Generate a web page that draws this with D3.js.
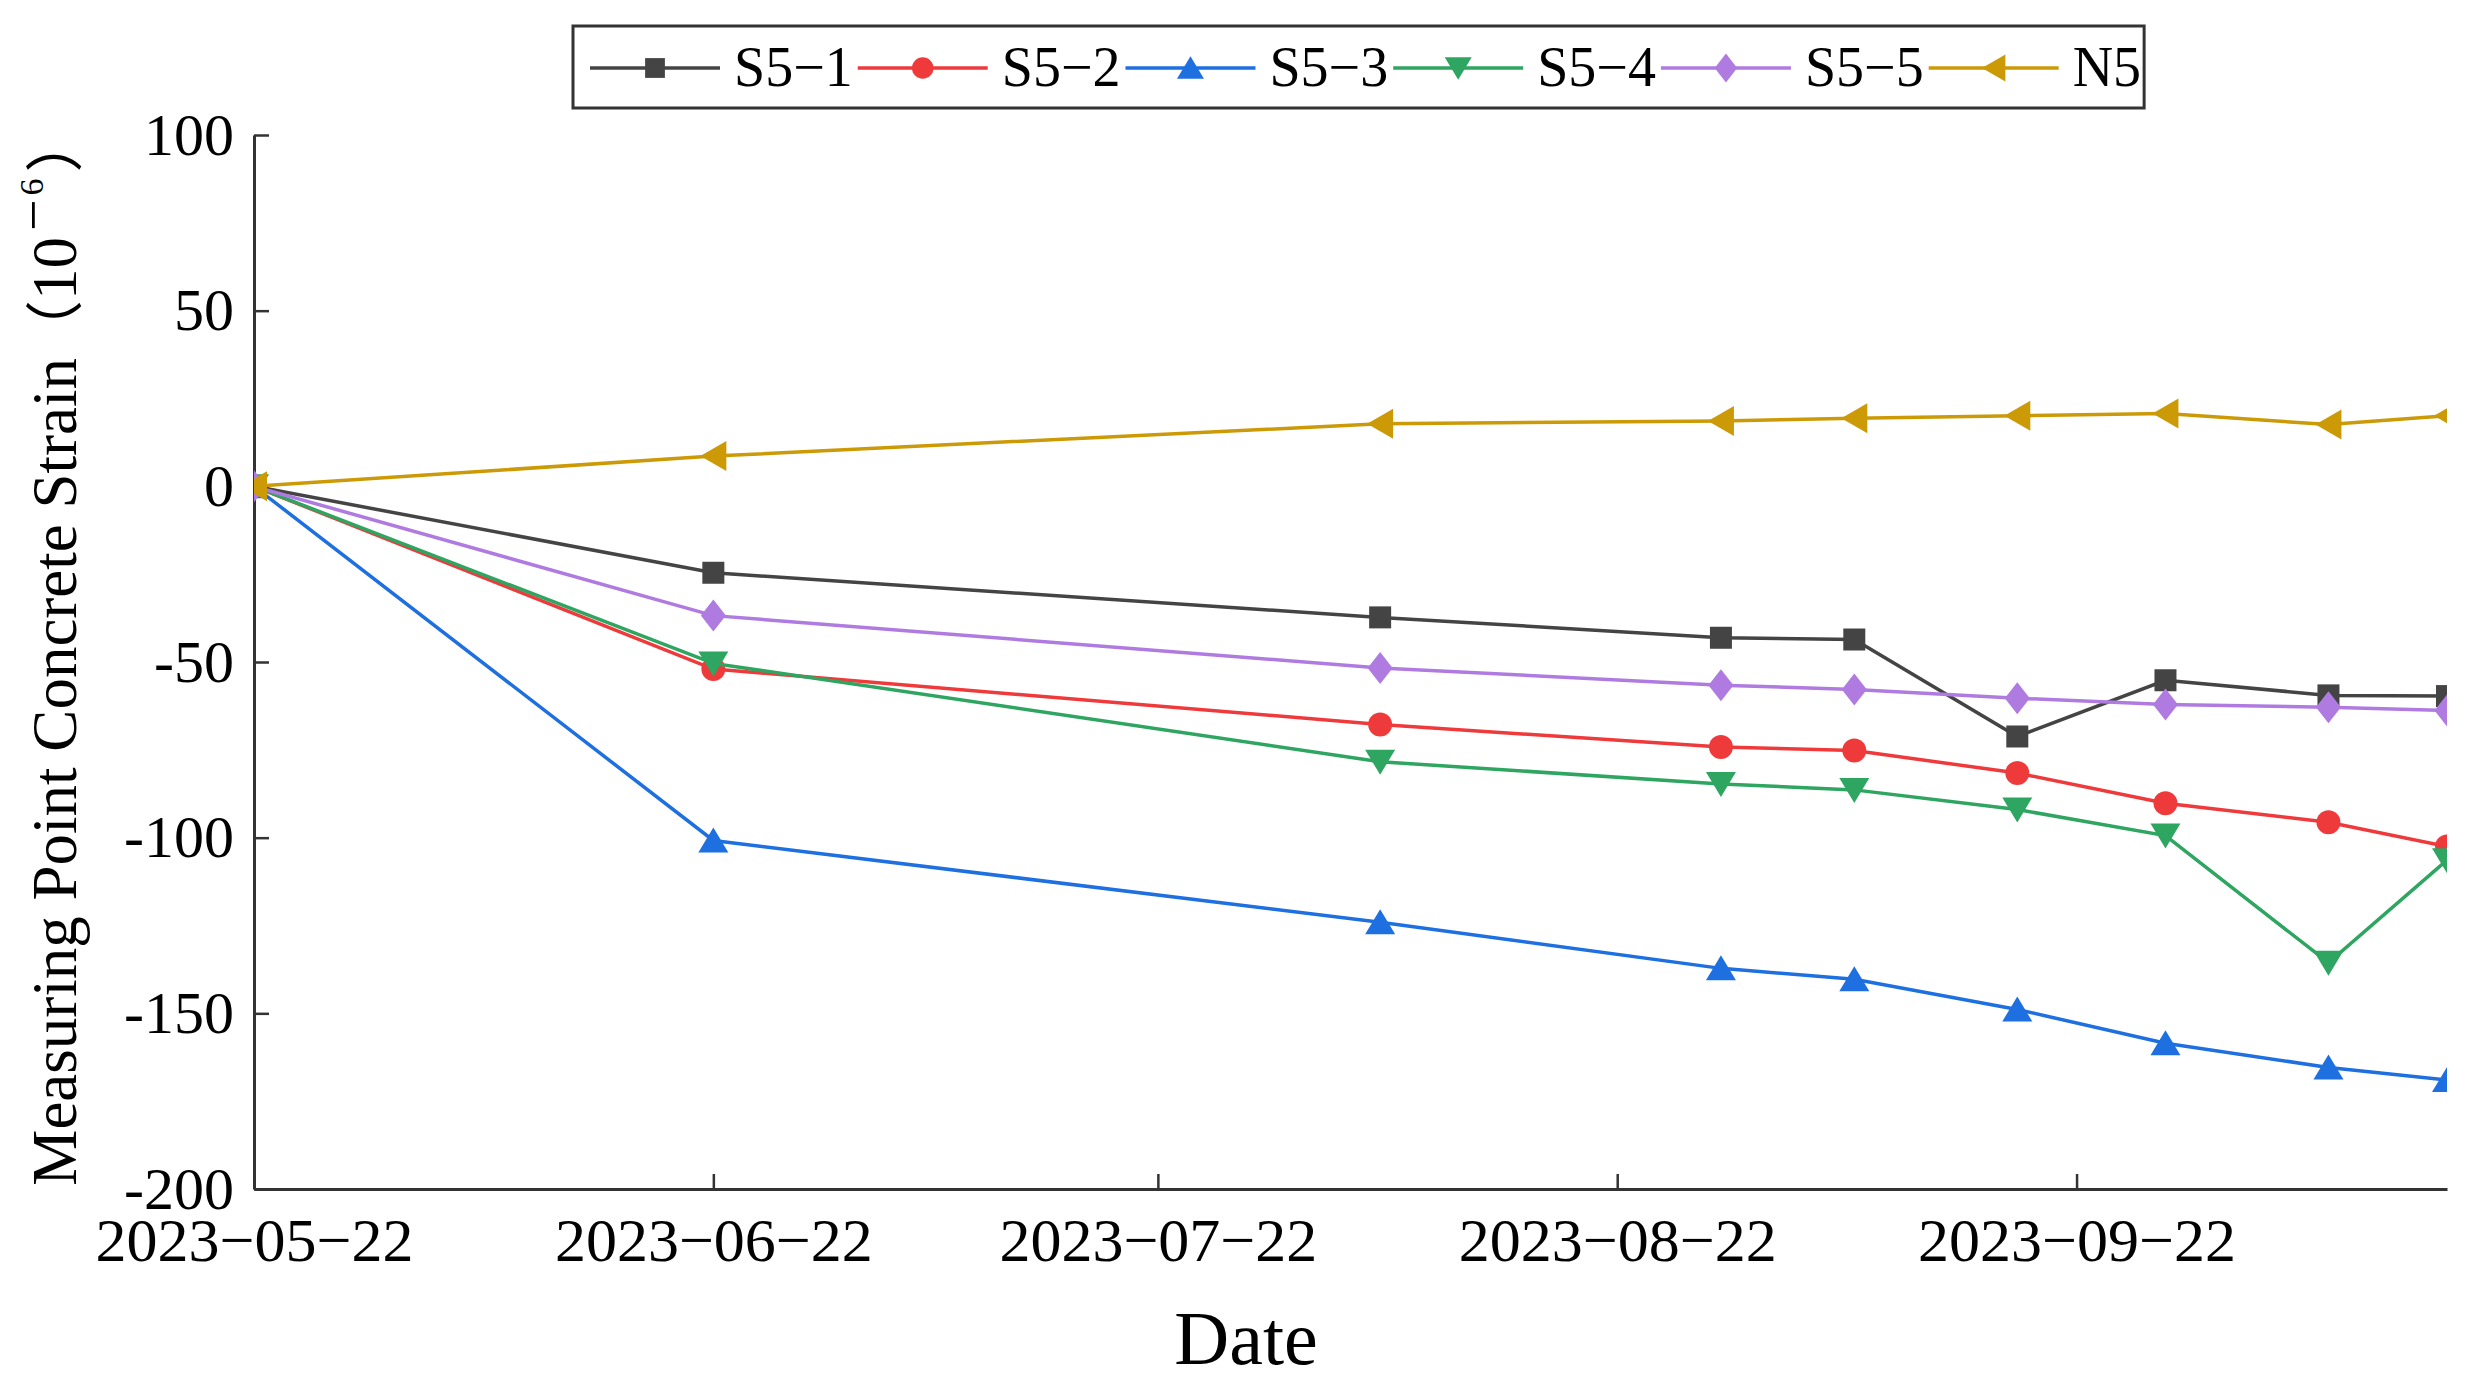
<!DOCTYPE html>
<html>
<head>
<meta charset="utf-8">
<script src="https://cdn.jsdelivr.net/npm/d3@7"></script>
<style>
  html, body { margin: 0; padding: 0; background: #fff; }
  svg { display: block; }
  text { font-family: "Liberation Serif", "Times New Roman", serif; fill: #000; }
</style>
</head>
<body>
<svg id="chart" width="2479" height="1390"></svg>
<script>
// ---------------- data ----------------
const dates = ["2023-05-22","2023-06-22","2023-08-06","2023-08-29","2023-09-07","2023-09-18","2023-09-28","2023-10-09","2023-10-17"];
const seriesNames = ["S5\u22121","S5\u22122","S5\u22123","S5\u22124","S5\u22125","N5"];
const s5_1 = [0, -24.6, -37.3, -43.1, -43.6, -71.2, -55.2, -59.5, -59.7];
const s5_2 = [0, -52.0, -67.8, -74.2, -75.2, -81.6, -90.2, -95.6, -102.5];
const s5_3 = [0, -100.8, -124.1, -137.2, -140.3, -148.9, -158.5, -165.4, -169.0];
const s5_4 = [0, -50.4, -78.4, -84.7, -86.4, -92.0, -99.4, -135.6, -106.4];
const s5_5 = [0, -36.8, -51.7, -56.6, -57.8, -60.3, -62.1, -62.9, -63.8];
const n5   = [0, 8.6, 17.8, 18.6, 19.4, 20.1, 20.7, 17.6, 20.1];
const seriesValues = [s5_1, s5_2, s5_3, s5_4, s5_5, n5];
const colors = ["#444444", "#EF3A3C", "#1E6FE0", "#2EA560", "#B07BE0", "#CC9A06"];
const markers = ["square", "circle", "triUp", "triDown", "diamond", "triLeft"];
const xTickDates = ["2023-05-22","2023-06-22","2023-07-22","2023-08-22","2023-09-22"];
const yTicks = [-200, -150, -100, -50, 0, 50, 100];
const xDomain = ["2023-05-22", "2023-10-17"];
const yDomain = [-200, 100];

// ---------------- layout ----------------
const svg = d3.select("#chart");
const parse = d3.utcParse("%Y-%m-%d");
const L = 254, R = 2447, T = 135, B = 1189;

const x = d3.scaleUtc().domain(xDomain.map(parse)).range([L, R]);
const y = d3.scaleLinear().domain(yDomain).range([B, T]);

function markerPath(type) {
  switch (type) {
    case "square":  return "M-11,-11H11V11H-11Z";
    case "circle":  return d3.symbol(d3.symbolCircle, 450)();
    case "triUp":   return "M0,-13L15,12L-15,12Z";
    case "triDown": return "M0,13L15,-12L-15,-12Z";
    case "diamond": return "M0,-16L12.5,0L0,16L-12.5,0Z";
    case "triLeft": return "M-13,0L13,-15L13,15Z";
  }
}

// clip
svg.append("defs").append("clipPath").attr("id", "plotclip")
  .append("rect").attr("x", L).attr("y", 0).attr("width", R - L).attr("height", 1390);

// axes
const axisColor = "#333";
const yAxis = d3.axisLeft(y).tickValues(yTicks).tickSizeInner(-15).tickSizeOuter(0)
  .tickPadding(20).tickFormat(d => String(d));
const gy = svg.append("g").attr("transform", `translate(${L},0)`).call(yAxis);
gy.select(".domain").attr("stroke", axisColor).attr("stroke-width", 3);
gy.selectAll(".tick line").attr("stroke", axisColor).attr("stroke-width", 2.5);
gy.selectAll(".tick text").attr("font-size", 60).attr("font-family", "Liberation Serif").attr("fill", "#000");

const xAxis = d3.axisBottom(x).tickValues(xTickDates.map(parse)).tickSizeInner(-15).tickSizeOuter(0)
  .tickPadding(0).tickFormat(d3.utcFormat("%Y\u2212%m\u2212%d"));
const gx = svg.append("g").attr("transform", `translate(0,${B})`).call(xAxis);
gx.select(".domain").attr("stroke", axisColor).attr("stroke-width", 3);
gx.selectAll(".tick line").attr("stroke", axisColor).attr("stroke-width", 2.5);
gx.selectAll(".tick text").attr("font-size", 62).attr("font-family", "Liberation Serif")
  .attr("fill", "#000").attr("y", 72).attr("dy", 0);

// series
const plot = svg.append("g").attr("clip-path", "url(#plotclip)");
const line = d3.line().x((d, i) => x(parse(dates[i]))).y(d => y(d));
seriesValues.forEach((vals, si) => {
  const g = plot.append("g");
  g.append("path").datum(vals).attr("d", line)
    .attr("fill", "none").attr("stroke", colors[si]).attr("stroke-width", 3.5)
    .attr("stroke-linejoin", "miter");
  g.selectAll("path.mk").data(vals).join("path").attr("class", "mk")
    .attr("d", markerPath(markers[si]))
    .attr("transform", (d, i) => `translate(${x(parse(dates[i]))},${y(d)})`)
    .attr("fill", colors[si]);
});

// axis titles
svg.append("text").attr("x", 1246).attr("y", 1364).attr("text-anchor", "middle")
  .attr("font-size", 76).text("Date");

const yl = svg.append("text").attr("transform", "translate(76,650) rotate(-90)")
  .attr("text-anchor", "middle").attr("font-size", 63);
yl.append("tspan").text("Measuring Point Concrete Strain");
yl.append("tspan").attr("font-family", "Noto Sans CJK SC").attr("font-size", 58).text("\uFF08");
yl.append("tspan").text("10");
yl.append("tspan").attr("font-size", 56).attr("dx", 6).attr("dy", -24).text("\u2212");
yl.append("tspan").attr("font-size", 34).attr("dx", 4).attr("dy", -9).text("6");
yl.append("tspan").attr("font-family", "Noto Sans CJK SC").attr("font-size", 58).attr("dx", 6).attr("dy", 33).text("\uFF09");

// legend
const lg = svg.append("g");
const lgY = 68, lineLen = 130, gapBefore = 14, gapAfter = 5;
let cursor = 590;
seriesNames.forEach((name, i) => {
  const x0 = cursor;
  lg.append("line").attr("x1", x0).attr("x2", x0 + lineLen).attr("y1", lgY).attr("y2", lgY)
    .attr("stroke", colors[i]).attr("stroke-width", 3.5);
  lg.append("path").attr("d", markerPath(markers[i]))
    .attr("transform", `translate(${x0 + lineLen / 2},${lgY}) scale(0.9)`).attr("fill", colors[i]);
  const t = lg.append("text").attr("x", x0 + lineLen + gapBefore).attr("y", 86)
    .attr("font-size", 56).text(name);
  cursor = x0 + lineLen + gapBefore + t.node().getComputedTextLength() + gapAfter;
});
lg.insert("rect", ":first-child").attr("x", 573).attr("y", 26)
  .attr("width", cursor - 2 - 573).attr("height", 82)
  .attr("fill", "#fff").attr("stroke", "#333").attr("stroke-width", 3);
</script>
</body>
</html>
